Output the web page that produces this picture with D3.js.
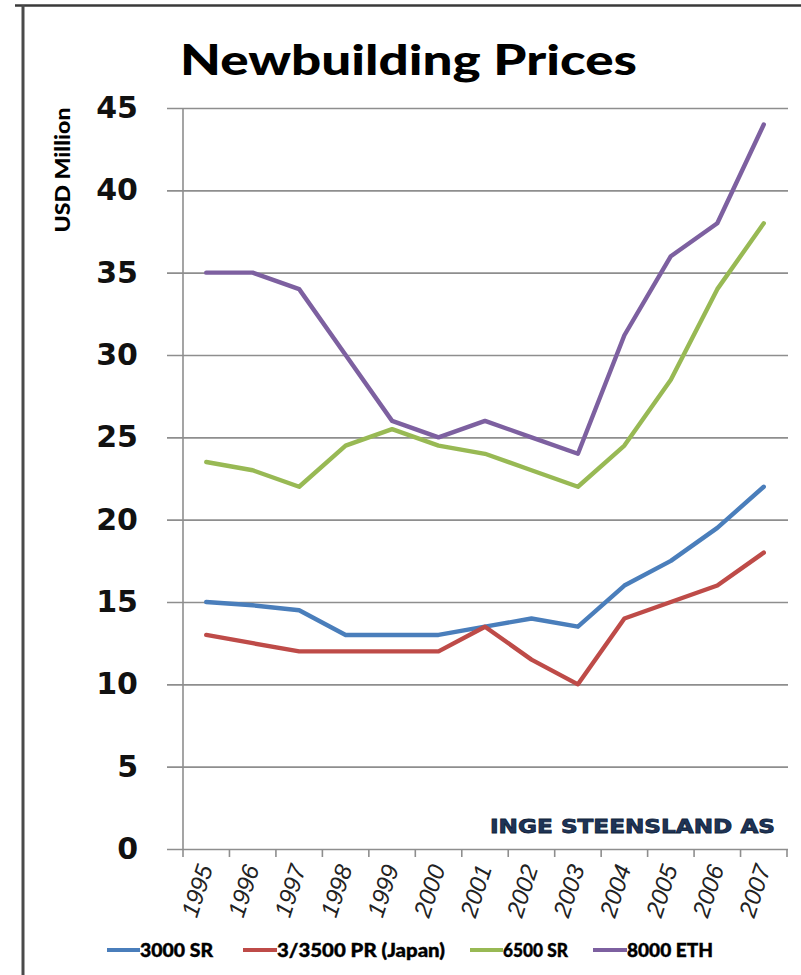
<!DOCTYPE html>
<html>
<head>
<meta charset="utf-8">
<script src="https://cdn.jsdelivr.net/npm/d3@7/dist/d3.min.js"></script>
<style>
  html, body { margin: 0; padding: 0; background: #ffffff; }
  svg { display: block; }
</style>
</head>
<body>
<svg id="chart" width="801" height="975"></svg>
<script>
// Newbuilding prices by vessel type, USD million per year
const years = ["1995","1996","1997","1998","1999","2000","2001","2002","2003","2004","2005","2006","2007"];
const sr3000   = [15, 14.8, 14.5, 13, 13, 13, 13.5, 14, 13.5, 16, 17.5, 19.5, 22];
const pr3500   = [13, 12.5, 12, 12, 12, 12, 13.5, 11.5, 10, 14, 15, 16, 18];
const sr6500   = [23.5, 23, 22, 24.5, 25.5, 24.5, 24, 23, 22, 24.5, 28.5, 34, 38];
const eth8000  = [35, 35, 34, 30, 26, 25, 26, 25, 24, 31.2, 36, 38, 44];
const seriesNames  = ["3000 SR", "3/3500 PR (Japan)", "6500 SR", "8000 ETH"];
const seriesColors = ["#4a7ebb", "#be4b48", "#98b954", "#7d60a0"];
const yTicks = [0, 5, 10, 15, 20, 25, 30, 35, 40, 45];

const seriesValues = [sr3000, pr3500, sr6500, eth8000];

const svg = d3.select("#chart");

// frame lines (top and left)
svg.append("line").attr("x1", 15).attr("x2", 801).attr("y1", 5.5).attr("y2", 5.5)
  .attr("stroke", "#3a3a3a").attr("stroke-width", 2.5);
svg.append("line").attr("x1", 23).attr("x2", 23).attr("y1", 5).attr("y2", 975)
  .attr("stroke", "#4a4a4a").attr("stroke-width", 3);

const plotLeft = 183, plotRight = 787, plotTop = 108, plotBottom = 849;
const x = d3.scaleBand().domain(years).range([plotLeft, plotRight]).padding(0);
const y = d3.scaleLinear().domain([0, 45]).range([plotBottom, plotTop]);

// gridlines + y tick labels
const gridLeft = 167;
const yAxis = d3.axisLeft(y).tickValues(yTicks).tickSize(-(plotRight + 1 - gridLeft)).tickPadding(29);
const gy = svg.append("g").attr("transform", `translate(${gridLeft},0)`).call(yAxis);
gy.select(".domain").remove();
gy.selectAll(".tick line").attr("stroke", "#8e8e8e").attr("stroke-width", 1.6);
gy.selectAll(".tick text")
  .attr("font-family", "'DejaVu Sans', Verdana, sans-serif")
  .attr("font-weight", "bold")
  .attr("font-size", 30)
  .attr("fill", "#111");

// vertical axis line
svg.append("line").attr("x1", plotLeft).attr("x2", plotLeft).attr("y1", plotTop).attr("y2", plotBottom)
  .attr("stroke", "#8e8e8e").attr("stroke-width", 1.6);

// category tick marks at band boundaries
const bounds = years.map(d => x(d)).concat([x(years[years.length - 1]) + x.bandwidth()]);
svg.append("g").selectAll("line").data(bounds).join("line")
  .attr("x1", d => d).attr("x2", d => d)
  .attr("y1", plotBottom).attr("y2", plotBottom + 8)
  .attr("stroke", "#8e8e8e").attr("stroke-width", 1.6);

// x labels, rotated
svg.append("g").selectAll("text").data(years).join("text")
  .attr("transform", d => `translate(${x(d) + x.bandwidth() / 2 + 7},${plotBottom + 19}) rotate(-72)`)
  .attr("text-anchor", "end")
  .attr("font-family", "'Liberation Sans', Arial, sans-serif")
  .attr("font-style", "italic")
  .attr("font-size", 24)
  .attr("fill", "#222")
  .text(d => d);

// lines
const line = d3.line()
  .x((d, i) => x(years[i]) + x.bandwidth() / 2)
  .y(d => y(d));
svg.append("g").selectAll("path").data(seriesValues).join("path")
  .attr("d", d => line(d))
  .attr("fill", "none")
  .attr("stroke", (d, i) => seriesColors[i])
  .attr("stroke-width", 4.4)
  .attr("stroke-linejoin", "round")
  .attr("stroke-linecap", "round");

// title
svg.append("text")
  .attr("x", 180).attr("y", 75)
  .attr("font-family", "Lato, 'Open Sans', sans-serif")
  .attr("font-weight", 900)
  .attr("font-size", 42)
  .attr("textLength", 457)
  .attr("lengthAdjust", "spacingAndGlyphs")
  .attr("fill", "#000")
  .text("Newbuilding Prices");

// y axis title
svg.append("text")
  .attr("transform", "translate(70,170) rotate(-90)")
  .attr("text-anchor", "middle")
  .attr("font-family", "Lato, 'Open Sans', sans-serif")
  .attr("font-weight", 900)
  .attr("font-size", 21)
  .attr("textLength", 125)
  .attr("lengthAdjust", "spacingAndGlyphs")
  .attr("fill", "#000")
  .text("USD Million");

// watermark
svg.append("text")
  .attr("x", 490).attr("y", 833)
  .attr("font-family", "'DejaVu Sans', sans-serif")
  .attr("font-weight", "bold")
  .attr("font-size", 19)
  .attr("textLength", 285)
  .attr("lengthAdjust", "spacingAndGlyphs")
  .attr("fill", "#1f3558")
  .attr("stroke", "#0f1f3a")
  .attr("stroke-width", 0.8)
  .text("INGE STEENSLAND AS");

// legend
const legendItems = [
  { x0: 107, x1: 140, tx: 140, tw: 73 },
  { x0: 243, x1: 277, tx: 277, tw: 168 },
  { x0: 470, x1: 503, tx: 503, tw: 65 },
  { x0: 593, x1: 627, tx: 627, tw: 86 }
];
const lg = svg.append("g").selectAll("g").data(seriesNames).join("g");
lg.append("line")
  .attr("x1", (d, i) => legendItems[i].x0).attr("x2", (d, i) => legendItems[i].x1)
  .attr("y1", 950).attr("y2", 950)
  .attr("stroke", (d, i) => seriesColors[i]).attr("stroke-width", 4);
lg.append("text")
  .attr("x", (d, i) => legendItems[i].tx).attr("y", 957)
  .attr("font-family", "Lato, sans-serif")
  .attr("font-weight", 900)
  .attr("font-size", 19)
  .attr("textLength", (d, i) => legendItems[i].tw)
  .attr("lengthAdjust", "spacingAndGlyphs")
  .attr("fill", "#000")
  .attr("stroke", "#000")
  .attr("stroke-width", 0.4)
  .text(d => d);
</script>
</body>
</html>
